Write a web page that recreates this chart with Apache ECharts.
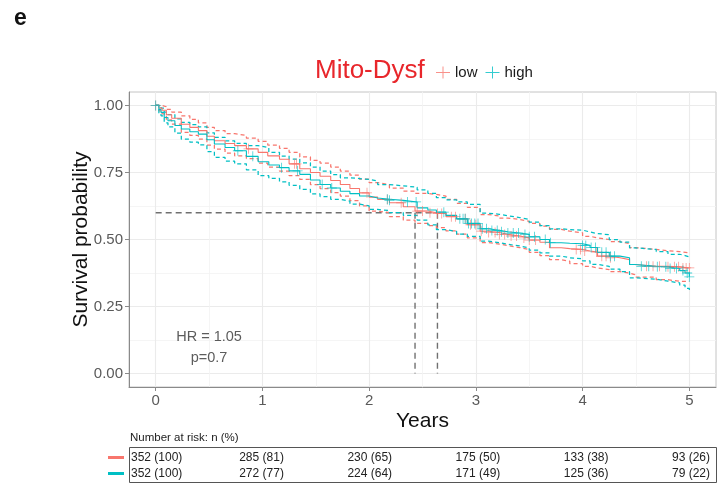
<!DOCTYPE html>
<html><head><meta charset="utf-8">
<script src="https://cdn.jsdelivr.net/npm/echarts@6.0.0/dist/echarts.min.js"></script>
<style>html,body{margin:0;padding:0;background:#fff}#c{width:717px;height:484px}</style>
</head><body><div id="c"></div>
<script>
// ---------------- data ----------------
const groups = ['low', 'high'];
const lowTimes  = [0,0.03,0.06,0.1,0.15,0.24,0.32,0.4,0.48,0.55,0.65,0.74,0.85,0.96,1.05,1.16,1.25,1.35,1.45,1.54,1.64,1.73,1.82,1.91,2.0,2.08,2.19,2.32,2.43,2.55,2.63,2.72,2.82,2.92,3.04,3.12,3.22,3.3,3.41,3.5,3.6,3.69,3.8,3.88,4.0,4.07,4.14,4.25,4.35,4.44,4.49,4.69,4.8,4.91,5.0];
const lowSurv   = [1,0.99,0.982,0.965,0.952,0.93,0.918,0.906,0.885,0.868,0.858,0.85,0.838,0.825,0.812,0.799,0.782,0.764,0.75,0.736,0.72,0.705,0.69,0.674,0.658,0.649,0.637,0.622,0.606,0.6,0.597,0.585,0.577,0.555,0.531,0.526,0.519,0.513,0.506,0.498,0.49,0.469,0.466,0.463,0.457,0.453,0.438,0.432,0.425,0.407,0.4,0.4,0.398,0.394,0.394];
const lowUpper  = [1,1,0.995,0.985,0.975,0.961,0.948,0.935,0.918,0.906,0.895,0.888,0.878,0.866,0.852,0.84,0.825,0.808,0.795,0.785,0.77,0.755,0.74,0.725,0.712,0.705,0.692,0.68,0.672,0.668,0.662,0.65,0.635,0.62,0.593,0.588,0.58,0.575,0.568,0.56,0.55,0.538,0.531,0.525,0.512,0.506,0.5,0.492,0.485,0.47,0.463,0.458,0.455,0.45,0.45];
const lowLower  = [1,0.98,0.968,0.946,0.93,0.899,0.888,0.874,0.852,0.837,0.822,0.812,0.802,0.785,0.77,0.755,0.738,0.724,0.705,0.69,0.675,0.662,0.645,0.625,0.606,0.6,0.585,0.572,0.56,0.552,0.544,0.532,0.52,0.506,0.488,0.483,0.477,0.47,0.463,0.452,0.44,0.425,0.419,0.41,0.4,0.394,0.388,0.38,0.375,0.369,0.36,0.35,0.344,0.344,0.344];

const highTimes = [0,0.03,0.05,0.08,0.115,0.18,0.24,0.32,0.4,0.48,0.55,0.65,0.74,0.85,0.96,1.06,1.16,1.25,1.35,1.45,1.54,1.64,1.73,1.82,1.91,2.0,2.08,2.19,2.32,2.45,2.55,2.63,2.72,2.82,2.92,3.04,3.12,3.22,3.3,3.41,3.5,3.6,3.69,3.8,3.88,4.0,4.07,4.14,4.25,4.35,4.44,4.49,4.69,4.8,4.91,4.96,5.0];
const highSurv  = [1,0.985,0.974,0.955,0.943,0.925,0.912,0.902,0.893,0.872,0.856,0.843,0.831,0.81,0.79,0.778,0.768,0.756,0.743,0.722,0.705,0.692,0.68,0.671,0.662,0.655,0.65,0.646,0.64,0.618,0.61,0.602,0.59,0.577,0.56,0.54,0.534,0.529,0.524,0.519,0.51,0.5,0.488,0.486,0.484,0.478,0.47,0.452,0.438,0.432,0.407,0.4,0.398,0.392,0.384,0.375,0.361];
const highUpper = [1,1,0.99,0.975,0.966,0.95,0.937,0.928,0.92,0.898,0.881,0.868,0.858,0.85,0.843,0.825,0.811,0.8,0.786,0.77,0.755,0.742,0.73,0.727,0.724,0.718,0.705,0.7,0.695,0.685,0.672,0.656,0.648,0.64,0.631,0.598,0.594,0.588,0.582,0.575,0.565,0.552,0.54,0.537,0.535,0.528,0.522,0.518,0.5,0.49,0.469,0.463,0.455,0.445,0.44,0.435,0.432];
const highLower = [1,0.972,0.961,0.935,0.92,0.897,0.874,0.863,0.853,0.828,0.806,0.792,0.782,0.76,0.738,0.728,0.715,0.702,0.687,0.67,0.66,0.65,0.643,0.632,0.625,0.612,0.608,0.6,0.59,0.572,0.555,0.537,0.53,0.52,0.512,0.494,0.488,0.482,0.476,0.469,0.46,0.45,0.438,0.432,0.428,0.42,0.407,0.4,0.39,0.38,0.357,0.352,0.345,0.338,0.33,0.318,0.307];

const lowCensor  = [0,0.87,1.3,1.32,1.98,2.17,2.3,2.45,2.5,2.57,2.64,2.68,2.77,2.81,2.9,2.95,3.0,3.05,3.12,3.18,3.22,3.27,3.33,3.38,3.45,3.5,3.56,3.94,3.98,4.02,4.13,4.18,4.22,4.26,4.6,4.66,4.72,4.8,4.86,4.9,4.94,4.97,5.0];
const highCensor = [0,0.77,0.91,1.18,1.33,1.56,1.65,2.17,2.19,2.36,2.44,2.7,2.85,2.88,2.9,2.93,2.96,2.99,3.02,3.06,3.1,3.15,3.2,3.24,3.3,3.35,3.4,3.46,3.5,3.55,3.65,3.7,4.0,4.03,4.08,4.12,4.18,4.22,4.26,4.3,4.55,4.62,4.7,4.78,4.82,4.88,4.94,4.98,5.0];

const medianSurv  = 0.6;
const medianTimes = [2.43, 2.64];

const xTicks = [0,1,2,3,4,5];
const xMinor = [0.5,1.5,2.5,3.5,4.5];
const yTicks = [0,0.25,0.5,0.75,1];
const yMinor = [0.125,0.375,0.625,0.875];

const statLines = ['HR = 1.05', 'p=0.7'];
const statPos   = [[0.5, 0.137], [0.5, 0.06]];

const riskTitle = 'Number at risk: n (%)';
const riskLow  = ['352 (100)','285 (81)','230 (65)','175 (50)','133 (38)','93 (26)'];
const riskHigh = ['352 (100)','272 (77)','224 (64)','171 (49)','125 (36)','79 (22)'];

// ---------------- style ----------------
const FONT = '"Liberation Sans", Arial, Helvetica, sans-serif';
const COL = { low: '#F8766D', high: '#00BFC4' };
const PLUS = 'path://M0,4.6h10v0.8h-10z M4.6,0h0.8v10h-0.8z';
const LEG_PLUS = 'path://M0,5.5h14v1h-14z M6.5,0h1v12h-1z';

function pairs(t, v) { return t.map((x, i) => [x, v[i]]); }
function stepAt(t, v, x) { let k = 0; for (let i = 0; i < t.length; i++) { if (t[i] <= x) k = i; } return v[k]; }

const curves = {
  low:  { t: lowTimes,  s: lowSurv,  u: lowUpper,  l: lowLower,  c: lowCensor },
  high: { t: highTimes, s: highSurv, u: highUpper, l: highLower, c: highCensor }
};

const series = [];
groups.forEach(g => {
  const d = curves[g];
  series.push({ name: g, type: 'line', step: 'end', data: pairs(d.t, d.s), showSymbol: false, symbol: 'none',
    z: 4, color: COL[g], lineStyle: { color: COL[g], width: 1.1 }, silent: true });
});
groups.forEach(g => {
  const d = curves[g];
  ['u', 'l'].forEach(k => {
    series.push({ name: g, type: 'line', step: 'end', data: pairs(d.t, d[k]), showSymbol: false, symbol: 'none',
      z: 3, color: COL[g], lineStyle: { color: COL[g], width: 1.25, type: [4, 3] }, silent: true });
  });
});
groups.forEach(g => {
  const d = curves[g];
  series.push({ name: g, type: 'scatter', data: d.c.map(x => [x, stepAt(d.t, d.s, x)]), symbol: PLUS, symbolSize: 10,
    z: 5, color: COL[g], itemStyle: { color: COL[g], opacity: 0.75 }, silent: true });
});
// median lines
const medStyle = { color: '#707070', width: 1.4, type: [6, 4] };
series.push({ type: 'line', data: [[0, medianSurv], [Math.max(...medianTimes), medianSurv]], showSymbol: false, symbol: 'none', z: 2, lineStyle: medStyle, silent: true });
medianTimes.forEach(t => {
  series.push({ type: 'line', data: [[t, medianSurv], [t, 0]], showSymbol: false, symbol: 'none', z: 2, lineStyle: medStyle, silent: true });
});
// HR / p text
series.push({ type: 'scatter', symbolSize: 0, silent: true, z: 6,
  data: statLines.map((s, i) => ({ value: statPos[i], name: s })),
  label: { show: true, position: 'inside', formatter: p => p.name, fontSize: 14.5, color: '#333', fontFamily: FONT } });

// ---------------- risk table (graphic) ----------------
const tblLeft = 129, tblRight = 716, tblTop = 447, tblBottom = 482;
const rowY = [457.5, 473.5];
const colX = i => 131 + i * 108.2;
const graphic = [
  { type: 'text', left: 14, top: 7, style: { text: 'e', font: 'bold 23px ' + FONT, fill: '#111' } },
  { type: 'text', x: 130, y: 438, style: { text: riskTitle, font: '11.5px ' + FONT, fill: '#222', verticalAlign: 'middle' } },
  { type: 'rect', shape: { x: tblLeft + 0.5, y: tblTop + 0.5, width: tblRight - tblLeft, height: tblBottom - tblTop }, style: { fill: 'none', stroke: '#555', lineWidth: 1 } }
];
[riskLow, riskHigh].forEach((row, r) => {
  const g = groups[r];
  graphic.push({ type: 'rect', shape: { x: 108, y: rowY[r] - 1.5, width: 16, height: 3 }, style: { fill: COL[g] } });
  row.forEach((s, i) => {
    graphic.push({ type: 'text', x: colX(i), y: rowY[r], style: { text: s, font: '12px ' + FONT, fill: '#222', verticalAlign: 'middle' } });
  });
});

// ---------------- chart ----------------
const chart = echarts.init(document.getElementById('c'), null, { renderer: 'canvas' });
const axisCommon = { type: 'value', axisLine: { show: false, onZero: false }, axisTick: { show: false }, axisLabel: { show: false } };
chart.setOption({
  animation: false,
  backgroundColor: '#fff',
  textStyle: { fontFamily: FONT },
  title: { text: 'Mito-Dysf', left: 310, top: 53, textStyle: { fontSize: 26, color: '#E8262B', fontWeight: 'normal', fontFamily: FONT } },
  legend: { left: 431, top: 60, itemWidth: 14, itemHeight: 12, itemGap: 8, selectedMode: false,
    data: groups.map(g => ({ name: g, icon: LEG_PLUS, itemStyle: { color: COL[g], opacity: 0.8 } })),
    textStyle: { fontSize: 15, color: '#1a1a1a', fontFamily: FONT } },
  grid: { left: 129, top: 92, width: 587, height: 295, show: true, borderColor: '#c4c4c4', borderWidth: 1, containLabel: false },
  xAxis: [
    { type: 'value', min: -0.25, max: 5.25,
      axisLine: { show: true, onZero: false, lineStyle: { color: '#8a8a8a', width: 1 } },
      axisTick: { show: true, customValues: xTicks, length: 4, lineStyle: { color: '#8a8a8a' } },
      axisLabel: { customValues: xTicks, fontSize: 15, color: '#5a5a5a', margin: 6, fontFamily: FONT },
      splitLine: { show: true, lineStyle: { color: '#ebebeb', width: 1.1 } },
      name: 'Years', nameLocation: 'middle', nameGap: 24, nameMoveOverlap: false, nameTextStyle: { fontSize: 21, color: '#111', fontFamily: FONT } },
    Object.assign({}, axisCommon, { min: -0.25, max: 5.25, position: 'top',
      axisTick: { show: false, customValues: xMinor }, axisLabel: { show: false, customValues: xMinor },
      splitLine: { show: true, lineStyle: { color: '#f3f3f3', width: 0.8 } } })
  ],
  yAxis: [
    { type: 'value', min: -0.05, max: 1.05,
      axisLine: { show: true, onZero: false, lineStyle: { color: '#8a8a8a', width: 1 } },
      axisTick: { show: true, customValues: yTicks, length: 4, lineStyle: { color: '#8a8a8a' } },
      axisLabel: { customValues: yTicks, fontSize: 15, color: '#5a5a5a', margin: 6, fontFamily: FONT, formatter: v => v.toFixed(2) },
      splitLine: { show: true, lineStyle: { color: '#ebebeb', width: 1.1 } },
      name: 'Survival probability', nameLocation: 'middle', nameGap: 37, nameMoveOverlap: false, nameTextStyle: { fontSize: 21, color: '#111', fontFamily: FONT } },
    Object.assign({}, axisCommon, { min: -0.05, max: 1.05, position: 'right',
      axisTick: { show: false, customValues: yMinor }, axisLabel: { show: false, customValues: yMinor },
      splitLine: { show: true, lineStyle: { color: '#f3f3f3', width: 0.8 } } })
  ],
  series: series,
  graphic: graphic
});
</script>
</body></html>
